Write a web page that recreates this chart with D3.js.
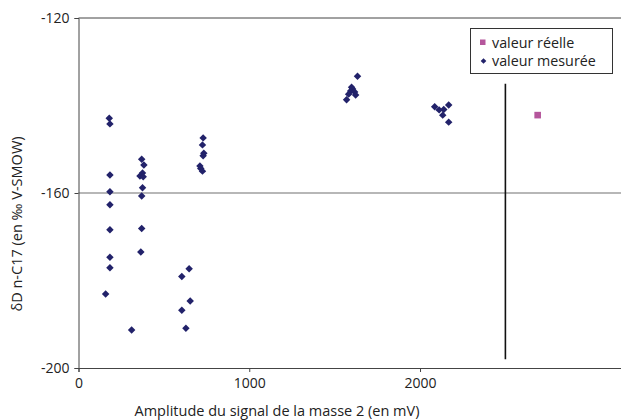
<!DOCTYPE html>
<html><head><meta charset="utf-8">
<script src="https://cdn.jsdelivr.net/npm/d3@7"></script>
<style>body{margin:0;background:#fff}svg{display:block}text{font-family:"Open Sans",sans-serif;fill:#222}</style>
</head><body><svg id="c" width="621" height="420"></svg>
<script>
// measured values (x: mV, y: ‰)
const measuredX = [180,184,184,184,184,184,184,184,159,
  370,383,375,360,379,375,370,370,365,311,
  730,726,734,730,711,716,726,
  648,605,654,605,629,
  1634,1599,1605,1594,1617,1582,1623,1570,
  2086,2168,2139,2133,2112,2168];
const measuredY = [-142.9,-144.2,-155.9,-159.7,-162.7,-168.4,-174.7,-177.1,-183.1,
  -152.3,-153.6,-155.4,-156.1,-156.3,-158.8,-160.7,-168.1,-173.5,-191.3,
  -147.4,-149.0,-150.9,-151.5,-153.8,-154.4,-155.0,
  -177.3,-179.1,-184.7,-186.8,-190.9,
  -133.3,-135.8,-136.2,-136.7,-136.9,-137.4,-137.6,-138.7,
  -140.3,-139.9,-140.9,-142.2,-141.0,-143.8];
const realX = [2689];
const realY = [-142.2];
const refLineX = [2500, 2500];
const refLineY = [-135, -198];
const xTicks = [0, 1000, 2000];
const yTicks = [-200, -160, -120];
const legendLabels = ["valeur réelle", "valeur mesurée"];

const svg = d3.select("#c");
const x = d3.scaleLinear().domain([0, 3177]).range([78.5, 621]);
const y = d3.scaleLinear().domain([-200, -120]).range([368, 18]);

// gridline at -160
svg.append("line").attr("x1", x(0)).attr("x2", 621).attr("y1", y(-160)).attr("y2", y(-160))
  .attr("stroke", "#707070").attr("stroke-width", 1.2);
// top border
svg.append("line").attr("x1", x(0)).attr("x2", 621).attr("y1", y(-120)).attr("y2", y(-120))
  .attr("stroke", "#444").attr("stroke-width", 1);

const fmt = d => String(d);
const xAxis = svg.append("g").attr("transform", `translate(0,${y(-200)})`)
  .call(d3.axisBottom(x).tickValues(xTicks).tickSize(4).tickPadding(6).tickFormat(fmt));
const yAxis = svg.append("g").attr("transform", `translate(${x(0)},0)`)
  .call(d3.axisLeft(y).tickValues(yTicks).tickSize(4).tickPadding(5).tickFormat(fmt));
[xAxis, yAxis].forEach(a => {
  a.select(".domain").attr("stroke", "#444");
  a.selectAll(".tick line").attr("stroke", "#444");
  a.selectAll("text").style("font-size", "14px").attr("fill", "#222");
});

// vertical reference line
svg.append("line").attr("x1", x(refLineX[0])).attr("x2", x(refLineX[1]))
  .attr("y1", y(refLineY[0])).attr("y2", y(refLineY[1]))
  .attr("stroke", "#111").attr("stroke-width", 1.6);

const diamond = d3.symbol().type(d3.symbolSquare).size(28);
const navy = "#22226a", pink = "#b5569c";
svg.append("g").selectAll("path").data(measuredX.map((v, i) => [v, measuredY[i]])).join("path")
  .attr("d", diamond).attr("fill", navy)
  .attr("transform", d => `translate(${x(d[0])},${y(d[1])}) rotate(45)`);
svg.append("g").selectAll("rect").data(realX.map((v, i) => [v, realY[i]])).join("rect")
  .attr("x", d => x(d[0]) - 3.3).attr("y", d => y(d[1]) - 3.3)
  .attr("width", 6.6).attr("height", 6.6).attr("fill", pink);

// axis titles
svg.append("text").attr("x", 277).attr("y", 416).attr("text-anchor", "middle")
  .style("font-size", "14.5px").text("Amplitude du signal de la masse 2 (en mV)");
svg.append("text").attr("transform", "translate(22,224) rotate(-90)").attr("text-anchor", "middle")
  .style("font-size", "14.5px").text("δD n-C17 (en ‰ V-SMOW)");

// legend
const lg = svg.append("g");
lg.append("rect").attr("x", 470.5).attr("y", 28.5).attr("width", 142).attr("height", 45)
  .attr("fill", "#fff").attr("stroke", "#333").attr("stroke-width", 1);
lg.append("rect").attr("x", 480).attr("y", 39.5).attr("width", 5.5).attr("height", 5.5).attr("fill", pink);
lg.append("path").attr("d", d3.symbol().type(d3.symbolSquare).size(16))
  .attr("transform", "translate(483.5,61) rotate(45)").attr("fill", navy);
lg.selectAll("text.l").data(legendLabels).join("text").attr("class", "l")
  .attr("x", 492).attr("y", (d, i) => 47.5 + i * 18.5).style("font-size", "14.3px").text(d => d);
</script></body></html>
